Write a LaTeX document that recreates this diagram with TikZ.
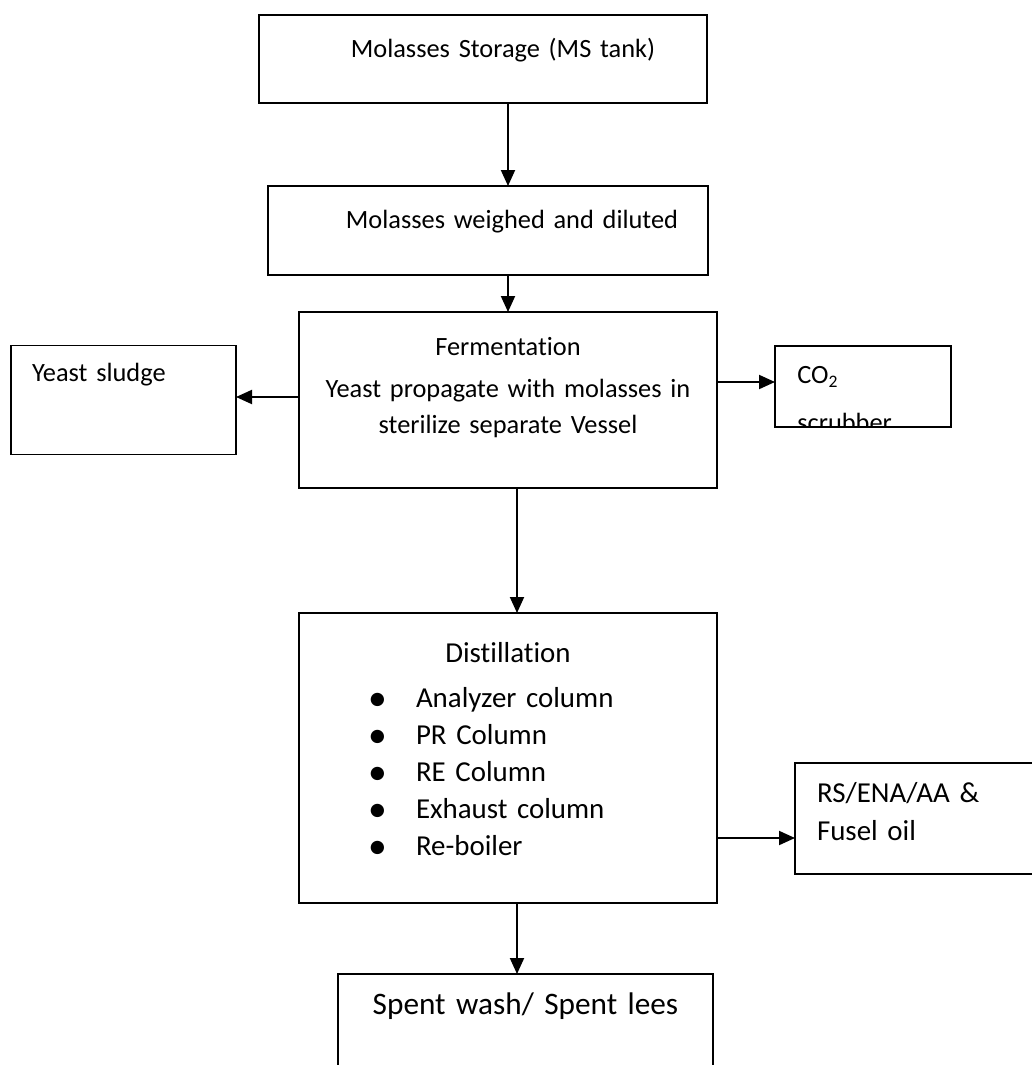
\documentclass[tikz,border=0pt]{standalone}
\usepackage{fontspec}
\setmainfont{Carlito}[Ligatures=NoCommon]
\usepackage{tikz}
\usetikzlibrary{arrows.meta,positioning}

\newcommand{\boxfont}{\fontsize{15}{20.5}\selectfont}
\newcommand{\bigboxfont}{\fontsize{16.45}{21}\selectfont}
\newcommand{\spentfont}{\fontsize{17.8}{22}\selectfont}
\newcommand{\colitem}{\hspace*{1.38cm}%
  \makebox[0.96cm][l]{\raisebox{-0.05cm}{\scalebox{1.3}{\textbullet}}}}

\begin{document}
\begin{tikzpicture}[
    stage/.style={draw, line width=1.1pt, inner sep=0pt, outer sep=0pt,
                  font=\boxfont},
    flow/.style={-{Triangle[length=0.32cm,width=0.28cm]}, line width=1.1pt}]

  \useasboundingbox (0,0) rectangle (20.64,-21.3);

  %% Molasses storage
  \node[stage, anchor=north west, text width=8.96cm,
        text height=0.84cm, text depth=0.92cm, align=center]
    (store) at (5.18,-0.30) {\hspace*{0.8cm}Molasses Storage (MS tank)};

  %% Weighing and dilution
  \node[stage, text width=8.8cm, text height=0.84cm, text depth=0.94cm,
        align=center, below=1.66cm of store, xshift=0.1cm]
    (dilute) {\hspace*{0.96cm}Molasses weighed and diluted};

  %% Fermentation
  \node[stage, text width=8.36cm, text height=0.86cm, text depth=2.66cm,
        align=center, below=0.74cm of dilute, xshift=0.4cm]
    (ferment) {Fermentation\\[0.12cm]
               Yeast propagate with molasses in\\
               sterilize separate Vessel};

  %% Side outputs of fermentation
  \node[stage, inner xsep=0.42cm, text width=3.66cm, text height=0.72cm,
        text depth=1.46cm, align=left, left=1.26cm of ferment]
    (sludge) {Yeast sludge};

  \node[stage, minimum width=3.52cm, minimum height=1.62cm,
        right=1.16cm of ferment, yshift=0.27cm] (scrub) {};
  \begin{scope}
    \clip (scrub.south west) rectangle (scrub.north east);
    \node[anchor=base west, inner sep=0pt, text width=3cm, align=left,
          font=\boxfont]
      (scrubtext) at ([xshift=0.44cm,yshift=-0.74cm]scrub.north west)
      {CO\raisebox{-0.35ex}{\fontsize{10}{10}\selectfont 2}\\[0.24cm]scrubber};
  \end{scope}
  \draw[line width=1.1pt] (scrub.south west) rectangle (scrub.north east);

  %% Distillation
  \node[stage, text width=8.36cm, text height=0.98cm, text depth=4.82cm,
        align=left, font=\bigboxfont, below=2.5cm of ferment]
    (distil) {\makebox[\linewidth]{Distillation}\\[0.18cm]
              \colitem Analyzer column\\
              \colitem PR Column\\
              \colitem RE Column\\
              \colitem Exhaust column\\
              \colitem Re-boiler};

  %% Products
  \node[stage, inner xsep=0.44cm, text width=4.22cm, text height=0.78cm,
        text depth=1.44cm, align=left, font=\bigboxfont,
        right=1.56cm of distil, yshift=-1.21cm]
    (product) {RS/ENA/AA \&\\[0.04cm]Fusel oil};

  \node[stage, text width=7.5cm, text height=0.8cm, text depth=3cm,
        align=center, font=\spentfont, below=1.42cm of distil, xshift=0.35cm]
    (spent) {Spent wash/ Spent lees};

  %% Arrows
  \coordinate (sludgeout) at ([yshift=0.06cm]ferment.west);
  \coordinate (co2in) at ([yshift=0.09cm]scrub.west);
  \coordinate (fdown) at ([xshift=0.18cm]ferment.south);
  \coordinate (rsin) at ([yshift=-0.39cm]product.west);

  \draw[flow] (store.south -| ferment) -- (dilute.north -| ferment);
  \draw[flow] (dilute.south -| ferment) -- (ferment.north);
  \draw[flow] (sludgeout) -- (sludgeout -| sludge.east);
  \draw[flow] (ferment.east |- co2in) -- (co2in);
  \draw[flow] (fdown) -- (fdown |- distil.north);
  \draw[flow] (distil.east |- rsin) -- (rsin);
  \draw[flow] (distil.south -| fdown) -- (spent.north -| fdown);

\end{tikzpicture}
\end{document}
